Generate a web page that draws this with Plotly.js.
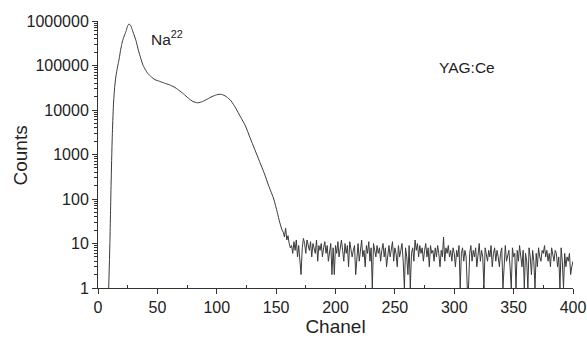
<!DOCTYPE html>
<html>
<head>
<meta charset="utf-8">
<script src="https://cdn.plot.ly/plotly-3.0.1.min.js"></script>
<style>html,body{margin:0;padding:0;background:#fff;}#chart{width:587px;height:338px;}</style>
</head>
<body>
<div id="chart"></div>
<script>
// Smooth part of the spectrum (channel, counts)
var peakChannels = [9,10,11,12,13,14,15,16,17,18,19,20,21,22,23,24,25,26,27,28,29,30,32,34,36,38,40,42,45,48,52,56,60,64,68,72,76,80,84,88,92,96,100,104,108,112,116,120,124,128,132,136,140,144,148,151,153,155];
var peakCounts = [1,10,200,2500,13000,32000,55000,80000,110000,150000,220000,300000,380000,460000,530000,640000,780000,850000,830000,740000,620000,520000,360000,220000,145000,100000,80000,66000,55000,48000,44000,40000,37000,33000,28000,23000,18500,15500,14500,15500,17500,20000,22000,22500,20000,16000,11000,7000,4500,2400,1300,700,380,190,100,50,30,20];
// Noisy background, one value per channel from 156 to 400
var noiseStart = 156;
var noiseCounts = [
18,14,22,12,15,10,8,9,6,11,
7,12,5,9,3,2,8,13,10,6,
12,9,7,11,5,10,8,6,12,4,
9,7,10,5,8,11,6,9,4,7,
10,2,8,2,9,6,11,5,8,12,
7,4,10,6,9,3,11,8,5,7,
9,2,6,10,4,8,12,5,7,3,
9,6,11,4,8,1,10,7,5,9,
6,8,4,7,10,5,8,3,6,9,
5,7,11,4,8,6,3,9,5,7,
10,4,1,8,5,2,9,1,6,8,
4,12,7,10,5,9,6,8,4,7,
10,5,8,3,9,6,7,4,8,5,
9,6,3,7,5,14,4,8,6,9,
5,7,4,8,6,3,7,5,9,1,
6,8,4,7,5,1,1,6,9,4,
7,5,8,3,6,10,4,7,5,1,
8,6,4,7,5,9,3,6,8,4,
7,5,3,6,8,1,5,9,4,6,
7,3,1,8,5,6,1,7,4,9,
5,3,7,1,6,4,1,8,5,2,
7,4,1,6,3,8,5,4,7,6,
9,5,7,4,6,3,8,5,4,7,
6,3,5,1,8,4,1,6,3,5,
4,6,2,3,4];
var noiseChannels = noiseCounts.map(function(_, i){ return noiseStart + i; });

var yTickVals = [1,10,100,1000,10000,100000,1000000];
var yTickText = ['1','10','100','1000','10000','100000','1000000'];
var xTickVals = [0,50,100,150,200,250,300,350,400];

var lineColor = '#3a3a3a';
var traces = [
  {x: peakChannels, y: peakCounts, type:'scatter', mode:'lines', line:{color:lineColor, width:1, shape:'spline', smoothing:0.6}, hoverinfo:'skip'},
  {x: [155].concat(noiseChannels), y: [20].concat(noiseCounts), type:'scatter', mode:'lines', line:{color:lineColor, width:1}, hoverinfo:'skip'}
];

var fam = '"Liberation Sans", Arial, sans-serif';
var font = {family:fam, color:'#222'};
var layout = {
  width:587, height:338,
  margin:{l:98, r:14, t:21, b:50},
  paper_bgcolor:'#fff', plot_bgcolor:'#fff',
  showlegend:false,
  font:font,
  xaxis:{
    range:[0,400], tickmode:'array', tickvals:xTickVals,
    ticks:'outside', ticklen:5, tickwidth:1, tickcolor:'#333',
    minor:{tickmode:'linear', tick0:25, dtick:50, ticks:'inside', ticklen:3, tickwidth:1, tickcolor:'#333', showgrid:false},
    showline:true, linecolor:'#333', linewidth:1, showgrid:false, zeroline:false,
    tickfont:{size:16, family:fam, color:'#222'},
    title:{text:'Chanel', font:{size:19, family:fam, color:'#222'}, standoff:3}
  },
  yaxis:{
    type:'log', range:[0,6], tickmode:'array', tickvals:yTickVals, ticktext:yTickText,
    ticks:'outside', ticklen:5, tickwidth:1, tickcolor:'#333',
    minor:{tickmode:'linear', dtick:'D1', ticks:'outside', ticklen:3, tickwidth:1, tickcolor:'#333', showgrid:false},
    showline:true, linecolor:'#333', linewidth:1, showgrid:false, zeroline:false,
    tickfont:{size:16, family:fam, color:'#222'}
  },
  annotations:[
    {x:0, y:0.5, xref:'paper', yref:'paper', xshift:-78, yshift:-1, text:'Counts', textangle:-90, showarrow:false, xanchor:'center', yanchor:'middle', font:{size:19, family:fam, color:'#222'}},
    {x:43, y:5.62, xref:'x', yref:'y', text:'Na<sup>22</sup>', showarrow:false, xanchor:'left', yanchor:'middle', font:{size:15.5, family:fam, color:'#222'}},
    {x:285.5, y:4.95, xref:'x', yref:'y', text:'YAG:Ce', showarrow:false, xanchor:'left', yanchor:'middle', font:{size:15.5, family:fam, color:'#222'}}
  ]
};
Plotly.newPlot('chart', traces, layout, {staticPlot:true, displayModeBar:false});
</script>
</body>
</html>
